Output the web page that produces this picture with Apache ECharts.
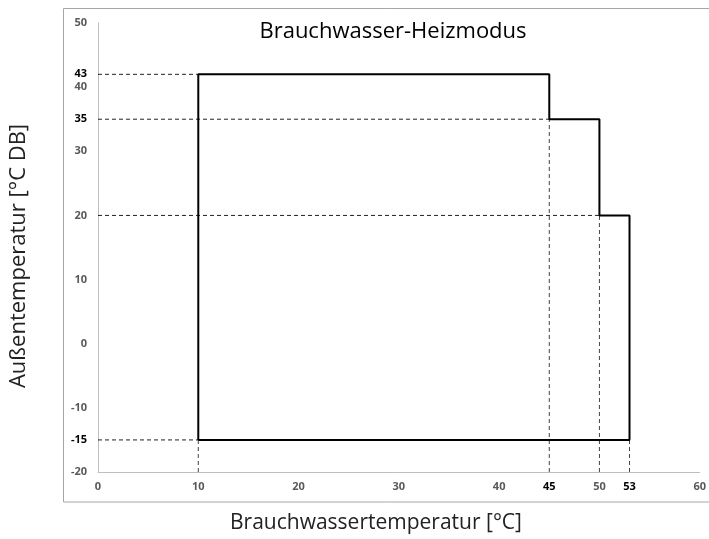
<!DOCTYPE html>
<html><head><meta charset="utf-8">
<script src="https://cdn.jsdelivr.net/npm/echarts@6/dist/echarts.min.js"></script>
<style>html,body{margin:0;padding:0;background:#fff}#c{width:709px;height:539px}</style>
</head><body><div id="c"></div>
<script>
// Operating envelope outline (x: water temperature, y: outdoor temperature)
var outlineX = [10, 10, 45, 45, 50, 50, 53, 53, 10];
var outlineY = [-15, 42, 42, 35, 35, 20, 20, -15, -15];
// Horizontal reference levels: [value, x where dashed line ends]
var hLevelY = [42, 35, 20, -15];
var hLevelEndX = [10, 45, 50, 10];
// Vertical reference lines: [x, y where dashed line starts]
var vLevelX = [10, 45, 50, 53];
var vLevelStartY = [-15, 35, 20, -15];
// Highlighted extra tick labels
var extraYTicks = [42, 35, -15];
var extraYLabels = ['43', '35', '-15'];
var extraXTicks = [45, 53];
var extraXLabels = ['45', '53'];

var font = '"Open Sans", "Liberation Sans", sans-serif';
var xMin = 0, xMax = 60, yMin = -20, yMax = 50;

var series = [];
series.push({
  type: 'line', data: outlineX.map(function (x, i) { return [x, outlineY[i]]; }),
  symbol: 'none', lineStyle: { color: '#000', width: 2 }, z: 5, silent: true, animation: false
});
hLevelY.forEach(function (y, i) {
  series.push({
    type: 'line', data: [[xMin, y], [hLevelEndX[i], y]], symbol: 'none',
    lineStyle: { color: '#222', width: 1, type: [4, 3] }, z: 3, animation: false, silent: true
  });
});
vLevelX.forEach(function (x, i) {
  series.push({
    type: 'line', data: [[x, yMin], [x, vLevelStartY[i]]], symbol: 'none',
    lineStyle: { color: '#444', width: 1, type: [4, 3] }, z: 3, animation: false, silent: true
  });
});

var grayLabel = { color: '#595959', fontWeight: 'bold', fontSize: 11, fontFamily: font };
var blackLabel = { color: '#000', fontWeight: 'bold', fontSize: 11, fontFamily: font };

var chart = echarts.init(document.getElementById('c'), null, { renderer: 'canvas' });
chart.setOption({
  backgroundColor: '#fff',
  animation: false,
  graphic: [{
    type: 'rect', shape: { x: 63.5, y: 8.5, width: 700, height: 493.5 },
    style: { fill: 'none', stroke: '#a6a6a6', lineWidth: 1 }, silent: true, z: -1
  }, {
    type: 'text', x: 393, y: 32,
    style: { text: 'Brauchwasser-Heizmodus', font: '22px ' + font, fill: '#000', textAlign: 'center', textVerticalAlign: 'middle' }
  }, {
    type: 'text', x: 376, y: 523,
    style: { text: 'Brauchwassertemperatur [°C]', font: '21px ' + font, fill: '#222', textAlign: 'center', textVerticalAlign: 'middle' }
  }, {
    type: 'text', rotation: Math.PI / 2, x: 19, y: 256,
    style: { text: 'Außentemperatur [°C DB]', font: '22px ' + font, fill: '#222', textAlign: 'center', textVerticalAlign: 'middle' }
  }],
  grid: { left: 98, right: 9, top: 23, bottom: 67, containLabel: false },
  xAxis: [{
    type: 'value', min: xMin, max: xMax, interval: 10,
    axisLine: { show: true, onZero: false, lineStyle: { color: '#bfbfbf', width: 1 } },
    axisTick: { show: false }, splitLine: { show: false },
    axisLabel: Object.assign({ margin: 9 }, grayLabel)
  }, {
    type: 'value', min: xMin, max: xMax, position: 'bottom',
    axisLine: { show: false, onZero: false }, axisTick: { show: false }, splitLine: { show: false },
    axisLabel: Object.assign({
      margin: 9, customValues: extraXTicks,
      formatter: function (v) { return extraXLabels[extraXTicks.indexOf(v)]; }
    }, blackLabel)
  }],
  yAxis: [{
    type: 'value', min: yMin, max: yMax, interval: 10,
    axisLine: { show: true, onZero: false, lineStyle: { color: '#bfbfbf', width: 1 } },
    axisTick: { show: false }, splitLine: { show: false },
    axisLabel: Object.assign({ margin: 11 }, grayLabel)
  }, {
    type: 'value', min: yMin, max: yMax, position: 'left',
    axisLine: { show: false, onZero: false }, axisTick: { show: false }, splitLine: { show: false },
    axisLabel: Object.assign({
      margin: 11, customValues: extraYTicks,
      formatter: function (v) { return extraYLabels[extraYTicks.indexOf(v)]; }
    }, blackLabel)
  }],
  series: series
});
</script>
</body></html>
